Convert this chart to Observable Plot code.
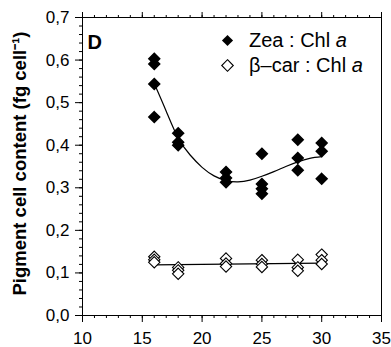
<!DOCTYPE html>
<html><head><meta charset="utf-8">
<script src="https://cdn.jsdelivr.net/npm/d3@7"></script>
<script src="https://cdn.jsdelivr.net/npm/@observablehq/plot@0.6"></script>
<style>body{margin:0;background:#fff}</style>
</head><body><div id="chart"></div>
<script>
const zeaX = [16,16,16,16, 18,18,18, 22,22,22, 25,25,25,25, 28,28,28, 30,30,30];
const zeaY = [0.603,0.591,0.544,0.466, 0.428,0.407,0.400, 0.337,0.323,0.313, 0.380,0.309,0.298,0.286, 0.413,0.370,0.341, 0.405,0.386,0.321];
const carX = [16,16,16, 18,18,18, 22,22,22, 25,25,25, 28,28,28, 30,30,30];
const carY = [0.138,0.131,0.125, 0.113,0.106,0.098, 0.134,0.122,0.115, 0.130,0.121,0.114, 0.131,0.113,0.105, 0.143,0.130,0.121];
const zeaFitX = [16,17,18,19,20,21,22,23,24,25,26,27,28,29,30];
const zeaFitY = [0.545,0.480,0.417,0.377,0.348,0.328,0.317,0.314,0.318,0.327,0.338,0.350,0.361,0.369,0.373];
const carFitX = [16,30];
const carFitY = [0.119,0.123];
const xTicks = [10,15,20,25,30,35];
const yTicks = [0,0.1,0.2,0.3,0.4,0.5,0.6,0.7];
const seriesNames = ["Zea : Chl a", "β–car : Chl a"];
const panelLabel = "D";
const yTitle = "Pigment cell content (fg cell⁻¹)";

const zea = zeaX.map((x,i)=>({x, y: zeaY[i]}));
const car = carX.map((x,i)=>({x, y: carY[i]}));
const zeaFit = zeaFitX.map((x,i)=>({x, y: zeaFitY[i]}));
const carFit = carFitX.map((x,i)=>({x, y: carFitY[i]}));
const xMinor = d3.range(10,35.01,1);
const yMinor = d3.range(0,0.7001,0.02);
const fmt = d => d.toFixed(1).replace(".", ",");
const font = "Arial, 'Liberation Sans', sans-serif";

const chart = Plot.plot({
  width: 391, height: 347,
  marginLeft: 82, marginRight: 10, marginTop: 17, marginBottom: 32,
  style: {fontFamily: font, background: "#fff", color: "#000"},
  x: {domain: [10,35]},
  y: {domain: [0,0.7]},
  marks: [
    Plot.frame({stroke: "#000", strokeWidth: 1}),
    Plot.axisX({ticks: xMinor, tickSize: 3, tickFormat: () => "", label: null}),
    Plot.axisX({ticks: xTicks, tickSize: 7, tickPadding: 9, fontSize: 17, label: null}),
    Plot.axisX({anchor: "top", ticks: xMinor, tickSize: 3, tickFormat: () => "", label: null}),
    Plot.axisX({anchor: "top", ticks: xTicks, tickSize: 6, tickFormat: () => "", label: null}),
    Plot.axisY({ticks: yMinor, tickSize: 3, tickFormat: () => "", label: null}),
    Plot.axisY({ticks: yTicks, tickSize: 7, tickPadding: 6, fontSize: 17, tickFormat: fmt, label: null}),
    Plot.line(zeaFit, {x: "x", y: "y", curve: "natural", stroke: "#000", strokeWidth: 1.2}),
    Plot.line(carFit, {x: "x", y: "y", stroke: "#000", strokeWidth: 1.2}),
    Plot.dot(car, {x: "x", y: "y", symbol: "diamond2", r: 5.1, fill: "#fff", stroke: "#000", strokeWidth: 1.1}),
    Plot.dot(zea, {x: "x", y: "y", symbol: "diamond2", r: 4.9, fill: "#000", stroke: "#000"}),
    Plot.text([panelLabel], {frameAnchor: "top-left", dx: 5, dy: 17, text: d => d, fontSize: 20, fontWeight: "bold", textAnchor: "start"}),
    Plot.dot([0], {frameAnchor: "top-right", dx: -154, dy: 23, symbol: "diamond2", r: 5, fill: "#000"}),
    Plot.dot([1], {frameAnchor: "top-right", dx: -154, dy: 48, symbol: "diamond2", r: 5.2, fill: "#fff", stroke: "#000", strokeWidth: 1.1}),
    Plot.text([yTitle], {frameAnchor: "left", dx: -62, dy: -3, rotate: -90, textAnchor: "middle", text: d => d, fontSize: 18.5, fontWeight: "bold"})
  ]
});
document.getElementById("chart").appendChild(chart);

// legend text with italic "a"
const svg = d3.select(chart);
const fx = chart.getAttribute("width") - 10;
const legend = [[seriesNames[0], 23], [seriesNames[1], 48]];
legend.forEach(([name, dy]) => {
  const base = name.slice(0, -1);
  const t = svg.append("text")
    .attr("x", fx - 132).attr("y", 17 + dy).attr("dy", "0.36em")
    .attr("text-anchor", "start")
    .attr("font-family", font).attr("font-size", 20).attr("fill", "#000");
  t.append("tspan").text(base);
  t.append("tspan").attr("font-style", "italic").text(name.slice(-1));
});
</script>
</body></html>
